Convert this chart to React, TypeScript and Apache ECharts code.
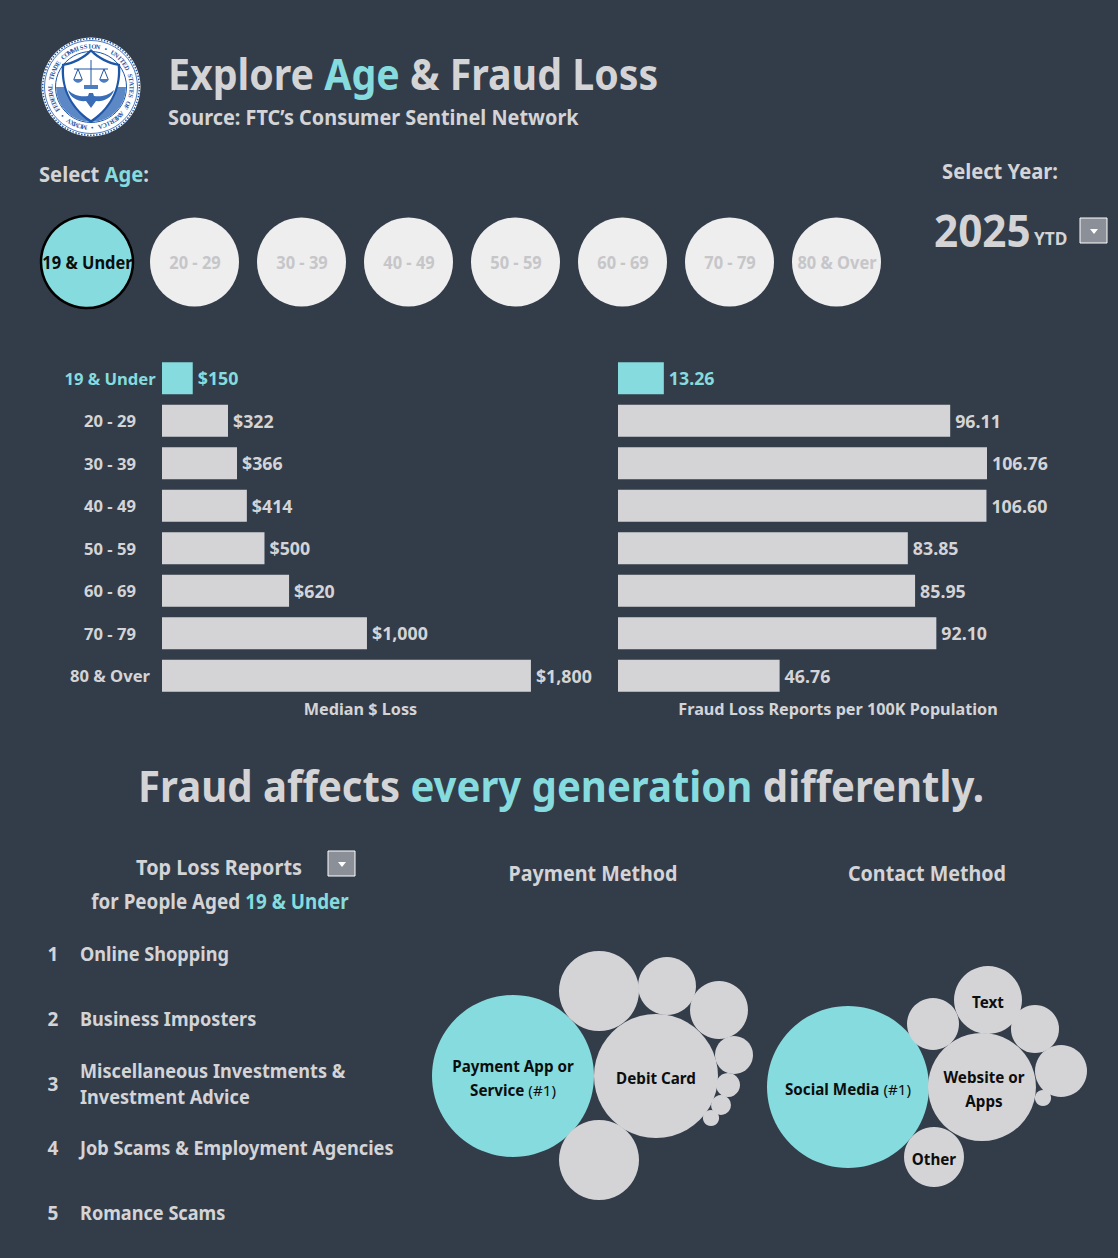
import React, { useEffect, useRef } from "react";
import * as echarts from "echarts";

const ageLabels = ["19 & Under", "20 - 29", "30 - 39", "40 - 49", "50 - 59", "60 - 69", "70 - 79", "80 & Over"];
const medianLoss = [150, 322, 366, 414, 500, 620, 1000, 1800];
const reportsPer100K = [13.26, 96.11, 106.76, 106.6, 83.85, 85.95, 92.1, 46.76];
const topReports = [
  ["Online Shopping"],
  ["Business Imposters"],
  ["Miscellaneous Investments &", "Investment Advice"],
  ["Job Scams & Employment Agencies"],
  ["Romance Scams"],
];
const paymentLabels = ["Payment App or\nService {n|(#1)}", "Debit Card", "", "", "", "", "", "", "", ""];
const paymentValues = [100, 58.6, 24.4, 24.4, 12.8, 12.8, 5.5, 2.2, 1.5, 1];
const contactLabels = ["Social Media {n|(#1)}", "Website or\nApps", "Text", "Other", "", "", "", ""];
const contactValues = [100, 44.4, 17.6, 13.7, 10.3, 10.3, 8.8, 1];

const paymentX = [513, 656, 599, 599, 667, 719, 734, 728, 721, 711];
const paymentY = [1076, 1076, 991, 1160, 986, 1010, 1055, 1085, 1105, 1118];
const contactX = [848, 982, 988, 934, 933, 1061, 1035, 1043];
const contactY = [1087, 1087, 1000, 1157, 1024, 1071, 1029, 1098];
const buttonX = [87, 194.5, 301.5, 408.5, 515.5, 622.5, 729.5, 836.5];

const BG = "#333d49";
const TEAL = "#85dbdd";
const GREY = "#d4d4d7";
const FONT = "'Noto Sans', sans-serif";
const SEAL = "#1f57a8";

echarts.graphic.registerShape(
  "sealShield",
  echarts.graphic.extendPath("M0,-38 C8,-30 18,-25 29,-23 C31,-3 24,20 0,36 C-24,20 -31,-3 -29,-23 C-18,-25 -8,-30 0,-38Z", {})
);
echarts.graphic.registerShape(
  "sealWings",
  echarts.graphic.extendPath("M-23,3 C-17,9 -9,10 -3,9 L-2,6 L2,6 L3,9 C9,10 17,9 23,3 C21,11 12,15 5,14 L0,21 L-5,14 C-12,15 -21,11 -23,3Z", {})
);
echarts.graphic.registerShape(
  "sealLines",
  echarts.graphic.extendPath("M0,-27 L0,-2 M-17,-18 L17,-18 M-13,-18 L-17,-8 M-13,-18 L-9,-8 M13,-18 L17,-8 M13,-18 L9,-8", {})
);
echarts.graphic.registerShape(
  "sealPans",
  echarts.graphic.extendPath("M-18,-8 C-16,-3 -10,-3 -8,-8Z M18,-8 C16,-3 10,-3 8,-8Z M-7,-2 L7,-2 L7,2 L-7,2Z", {})
);

function txt(text: string, x: number, y: number, size: number, fill: string, align = "left", scaleX = 1): any {
  return {
    type: "text",
    x,
    y,
    scaleX,
    silent: true,
    style: { text, fill, fontSize: size, fontFamily: FONT, fontWeight: 700, textAlign: align, textVerticalAlign: "middle" },
  };
}

function rich(text: string, x: number, y: number, size: number, align = "left", scaleX = 1): any {
  const part = (fill: string) => ({ fill, fontSize: size, fontFamily: FONT, fontWeight: 700 });
  return {
    type: "text",
    x,
    y,
    scaleX,
    silent: true,
    style: { text, textAlign: align, textVerticalAlign: "middle", rich: { g: part(GREY), t: part(TEAL) } },
  };
}

function dropdown(x: number, y: number): any[] {
  return [
    { type: "rect", shape: { x, y, width: 27, height: 25 }, style: { fill: "#8b8f98", stroke: "#ffffff", lineWidth: 1 } },
    { type: "polygon", shape: { points: [[x + 10, y + 11], [x + 18, y + 11], [x + 14, y + 16]] }, style: { fill: "#ffffff" } },
  ];
}

function seal(cx: number, cy: number): any {
  const ring = "MCMXV \u2022 FEDERAL TRADE COMMISSION \u2022 UNITED STATES OF AMERICA \u2022 ";
  const chars = ring.split("").map((c, i) => {
    const a = ((i + 0.5) / ring.length) * Math.PI * 2 + Math.PI + 0.12;
    return {
      type: "text",
      x: 41 * Math.sin(a),
      y: -41 * Math.cos(a),
      rotation: -a,
      style: { text: c, fill: SEAL, fontSize: 6.5, fontFamily: "'Liberation Serif', serif", fontWeight: 700, textAlign: "center", textVerticalAlign: "middle" },
    };
  });
  return {
    type: "group",
    x: cx,
    y: cy,
    silent: true,
    children: [
      { type: "circle", shape: { r: 49.5 }, style: { fill: "#ffffff" } },
      { type: "circle", shape: { r: 48.3 }, style: { fill: "none", stroke: SEAL, lineWidth: 1.5, lineDash: [1.5, 1.5] } },
      { type: "circle", shape: { r: 46.5 }, style: { fill: "none", stroke: SEAL, lineWidth: 0.8 } },
      { type: "circle", shape: { r: 35.5 }, style: { fill: "none", stroke: SEAL, lineWidth: 1 } },
      { type: "sector", shape: { r: 35, startAngle: 0, endAngle: Math.PI, clockwise: true }, style: { fill: "#5d88c6" } },
      { type: "sealShield", style: { fill: SEAL } },
      { type: "sealShield", scaleX: 0.92, scaleY: 0.92, style: { fill: "#ffffff" } },
      { type: "sealLines", style: { fill: "none", stroke: SEAL, lineWidth: 1 } },
      { type: "sealPans", style: { fill: "#4d7cc0" } },
      { type: "sealWings", style: { fill: "#3a6db8" } },
      ...chars,
    ],
  };
}

function bubbleSeries(labels: string[], values: number[], xs: number[], ys: number[]): any {
  return {
    type: "scatter",
    xAxisIndex: 2,
    yAxisIndex: 2,
    silent: true,
    symbolSize: (v: number[]) => 162 * Math.sqrt(v[2] / 100),
    data: labels.map((name, i) => ({
      value: [xs[i], ys[i], values[i]],
      itemStyle: { color: i === 0 ? TEAL : GREY, opacity: 1 },
      label: {
        show: name !== "",
        formatter: name,
        position: "inside",
        offset: [name.startsWith("Website") ? 2 : 0, 2],
        color: "#0d0d0d",
        fontFamily: FONT,
        fontWeight: 700,
        fontSize: 15.2,
        lineHeight: 24,
        align: "center",
        rich: { n: { color: "#0d0d0d", fontFamily: FONT, fontWeight: 400, fontSize: 15.2, lineHeight: 24 } },
      },
    })),
  };
}

function barSeries(values: number[], idx: number, fmt: (v: number) => string): any {
  return {
    type: "bar",
    xAxisIndex: idx,
    yAxisIndex: idx,
    barWidth: 32,
    silent: true,
    data: values.map((v, i) => ({
      value: v,
      itemStyle: { color: i === 0 ? TEAL : GREY },
      label: {
        show: true,
        position: "right",
        distance: 5,
        formatter: fmt(v),
        color: i === 0 ? TEAL : GREY,
        fontFamily: FONT,
        fontWeight: 700,
        fontSize: 17.8,
      },
    })),
  };
}

const hiddenValueAxis = (gridIndex: number, max: number, name: string): any => ({
  type: "value",
  gridIndex,
  min: 0,
  max,
  name,
  nameLocation: "middle",
  nameGap: 4,
  nameTextStyle: { color: GREY, fontFamily: FONT, fontWeight: 700, fontSize: 16.2 },
  axisLine: { show: false },
  axisTick: { show: false },
  axisLabel: { show: false },
  splitLine: { show: false },
});

const categoryAxis = (gridIndex: number, showLabels: boolean): any => ({
  type: "category",
  gridIndex,
  inverse: true,
  data: ageLabels,
  axisLine: { show: false },
  axisTick: { show: false },
  axisLabel: {
    show: showLabels,
    align: "center",
    margin: 52,
    fontFamily: FONT,
    fontWeight: 700,
    fontSize: 16.6,
    color: (v: string) => (v === ageLabels[0] ? TEAL : GREY),
  },
});

export default function App() {
  const ref = useRef<HTMLDivElement>(null);
  useEffect(() => {
    const chart = echarts.init(ref.current!, null, { renderer: "svg" });
    const buttons: any[] = [];
    ageLabels.forEach((label, i) => {
      const on = i === 0;
      buttons.push({
        type: "circle",
        silent: true,
        shape: { cx: buttonX[i], cy: 262, r: on ? 46 : 44.5 },
        style: { fill: on ? TEAL : "#eeeeee", stroke: on ? "#000000" : undefined, lineWidth: on ? 2.5 : 0 },
      });
      buttons.push(txt(label, buttonX[i] + 0.5, 262, 17.5, on ? "#0d0d0d" : "#c6c6c9", "center", 0.94));
    });
    const list: any[] = [];
    const listY = [954, 1019, 1084, 1148, 1213];
    topReports.forEach((lines, i) => {
      list.push(txt(String(i + 1), 53, listY[i], 19, GREY, "center"));
      if (lines.length === 1) list.push(txt(lines[0], 80, listY[i], 19.5, GREY, "left", 0.93));
      else {
        list.push(txt(lines[0], 80, listY[i] - 13, 19.5, GREY, "left", 0.93));
        list.push(txt(lines[1], 80, listY[i] + 13, 19.5, GREY, "left", 0.93));
      }
    });
    chart.setOption({
      animation: false,
      backgroundColor: BG,
      tooltip: { show: false },
      grid: [
        { left: 162, top: 357, width: 397, height: 340 },
        { left: 618, top: 357, width: 440, height: 340 },
        { left: 0, top: 0, width: 1118, height: 1258 },
      ],
      xAxis: [
        hiddenValueAxis(0, 1937, "Median $ Loss"),
        hiddenValueAxis(1, 127.3, "Fraud Loss Reports per 100K Population"),
        { type: "value", gridIndex: 2, min: 0, max: 1118, show: false },
      ],
      yAxis: [
        categoryAxis(0, true),
        categoryAxis(1, false),
        { type: "value", gridIndex: 2, min: 0, max: 1258, inverse: true, show: false },
      ],
      series: [
        barSeries(medianLoss, 0, (v) => "$" + v.toLocaleString("en-US")),
        barSeries(reportsPer100K, 1, (v) => v.toFixed(2)),
        bubbleSeries(paymentLabels, paymentValues, paymentX, paymentY),
        bubbleSeries(contactLabels, contactValues, contactX, contactY),
      ],
      graphic: [
        {
          type: "group",
          silent: true,
          children: [
            seal(91, 87),
            rich("{g|Explore }{t|Age}{g| & Fraud Loss}", 168, 73, 43, "left", 0.914),
            txt("Source: FTC\u2019s Consumer Sentinel Network", 168, 117, 21.5, GREY, "left", 0.924),
            rich("{g|Select }{t|Age}{g|:}", 39, 174, 21, "left", 0.96),
            txt("Select Year:", 1000, 171, 21, GREY, "center", 0.96),
            txt("2025", 934, 230, 44, GREY, "left", 0.96),
            txt("YTD", 1034, 238, 18, GREY, "left", 0.96),
            ...dropdown(1080, 218),
            ...buttons,
            rich("{g|Fraud affects }{t|every generation}{g| differently.}", 561, 786, 42.5, "center", 0.943),
            txt("Top Loss Reports", 219, 867, 21.5, GREY, "center", 0.923),
            ...dropdown(328, 851),
            rich("{g|for People Aged }{t|19 & Under}", 220, 901, 20.5, "center", 0.92),
            txt("Payment Method", 593, 873, 21.5, GREY, "center", 0.915),
            txt("Contact Method", 927, 873, 21.5, GREY, "center", 0.915),
            ...list,
          ],
        },
      ],
    });
    return () => chart.dispose();
  }, []);
  return <div ref={ref} style={{ position: "absolute", left: 0, top: 0, width: 1118, height: 1258 }} />;
}
